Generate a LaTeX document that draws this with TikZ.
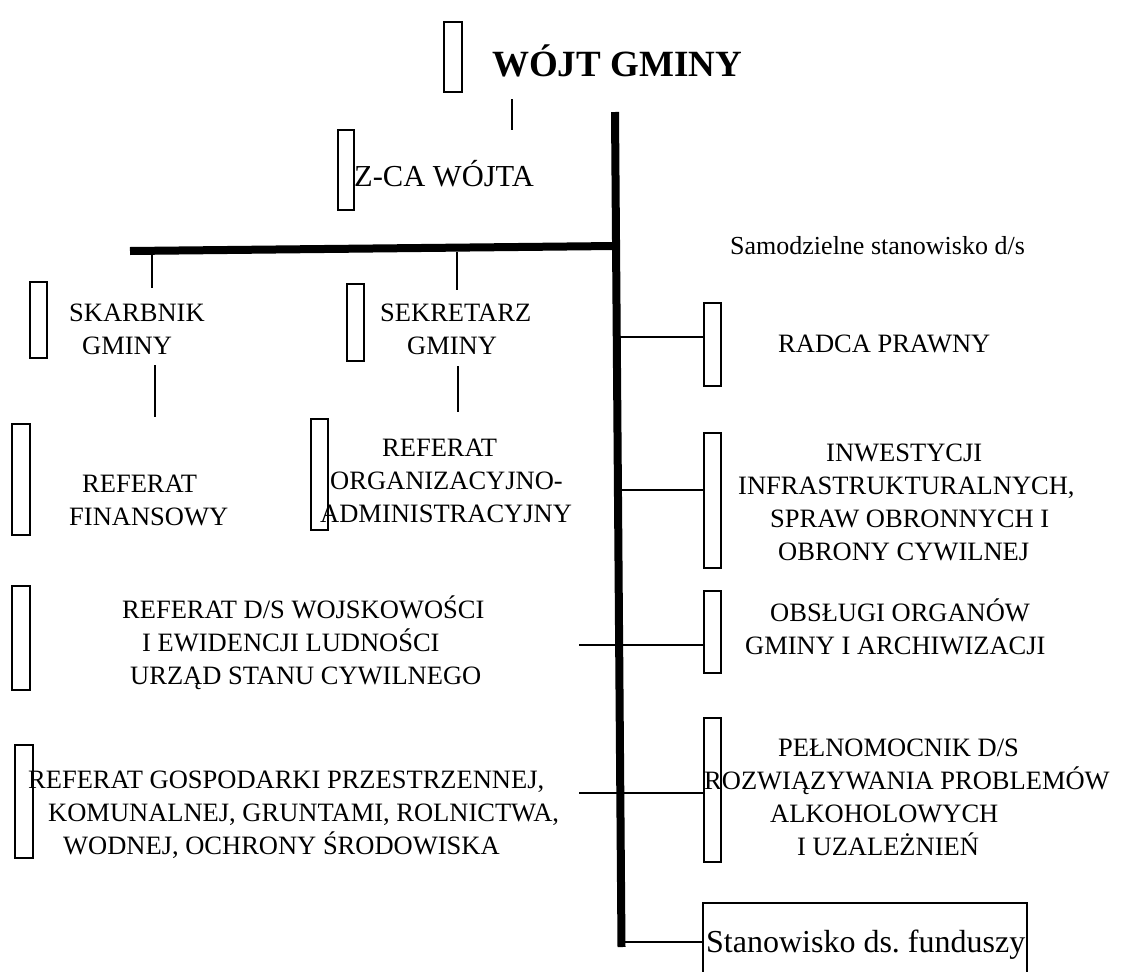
\documentclass[tikz,border=0pt]{standalone}
\usepackage{fontspec}
\setmainfont{LiberationSerif}[Extension=.ttf,UprightFont=*-Regular,BoldFont=*-Bold,ItalicFont=*-Italic,BoldItalicFont=*-BoldItalic]
\frenchspacing
\begin{document}
\begin{tikzpicture}[x=1pt,y=-1pt,
  bx/.style={draw,line width=1.4pt,inner sep=0pt,minimum width=17pt},
  txt/.style={inner sep=0pt,anchor=base west,font=\fontsize{26.5}{33}\selectfont},
  spine/.style={line width=8pt},
  conn/.style={line width=2.2pt}]
\useasboundingbox (0,0) rectangle (1133,972);
\clip (0,0) rectangle (1133,972);
% top
\node[bx,minimum width=18pt,minimum height=70pt] (bWojt) at (453,57) {};
\node[inner sep=0pt,anchor=base west,font=\bfseries\fontsize{37}{40}\selectfont] (tWojt) at (492,76) {WÓJT GMINY};
\coordinate (w1) at (512,99); \coordinate (w2) at (512,130);
\draw[conn] (w1) -- (w2);
\node[bx,minimum width=16pt,minimum height=80pt] (bZca) at (346,170) {};
\node[inner sep=0pt,anchor=base west,font=\fontsize{30.5}{34}\selectfont] (tZca) at (354,186) {Z-CA WÓJTA};
% spine
\coordinate (sTop) at (615,112); \coordinate (sBot) at (621.5,947);
\draw[spine] (sTop) -- (sBot);
\coordinate (hL) at (130,251); \coordinate (hR) at (615,246);
\draw[spine] (hL) -- (hR);
% ticks
\coordinate (k1a) at (152,252); \coordinate (k1b) at (152,288);
\coordinate (k2a) at (457,252); \coordinate (k2b) at (457,290);
\coordinate (k3a) at (155,365); \coordinate (k3b) at (155,417);
\coordinate (k4a) at (458,366); \coordinate (k4b) at (458,412);
\draw[conn] (k1a) -- (k1b); \draw[conn] (k2a) -- (k2b);
\draw[conn] (k3a) -- (k3b); \draw[conn] (k4a) -- (k4b);
% left boxes
\node[bx,minimum height=76pt] (bSkarb) at (38.5,320) {};
\node[txt] (tSkarb) at (69,321) {\begin{tabular}[t]{@{}l@{}}SKARBNIK\\\hspace*{13pt}GMINY\end{tabular}};
\node[bx,minimum height=77pt] (bSekr) at (355.5,322.5) {};
\node[txt] (tSekr) at (380,321) {\begin{tabular}[t]{@{}l@{}}SEKRETARZ\\\hspace*{27pt}GMINY\end{tabular}};
\node[bx,minimum width=18pt,minimum height=111pt] (bFin) at (21,479.5) {};
\node[txt] (tFin) at (69,492) {\begin{tabular}[t]{@{}l@{}}\hspace*{13pt}REFERAT\\FINANSOWY\end{tabular}};
\node[bx,minimum height=111pt] (bOrg) at (319.5,474.5) {};
\node[txt] (tOrg) at (320,456) {\begin{tabular}[t]{@{}l@{}}\hspace*{62pt}REFERAT\\\hspace*{10pt}ORGANIZACYJNO-\\ADMINISTRACYJNY\end{tabular}};
\node[bx,minimum width=18pt,minimum height=104pt] (bDs) at (21,638) {};
\node[txt] (tDs) at (122,618) {\begin{tabular}[t]{@{}l@{}}REFERAT D/S WOJSKOWOŚCI\\\hspace*{20pt}I EWIDENCJI LUDNOŚCI\\\hspace*{8pt}URZĄD STANU CYWILNEGO\end{tabular}};
\node[bx,minimum width=18pt,minimum height=113pt] (bGosp) at (24,801.5) {};
\node[txt] (tGosp) at (28,788) {\begin{tabular}[t]{@{}l@{}}REFERAT GOSPODARKI PRZESTRZENNEJ,\\\hspace*{20pt}KOMUNALNEJ, GRUNTAMI, ROLNICTWA,\\\hspace*{35pt}WODNEJ, OCHRONY ŚRODOWISKA\end{tabular}};
% right
\node[inner sep=0pt,anchor=base west,font=\fontsize{26}{30}\selectfont] (tSam) at (730,254) {Samodzielne stanowisko d/s};
\node[bx,minimum height=83pt] (bRadca) at (712.5,344.5) {};
\node[txt] (tRadca) at (778,352) {RADCA PRAWNY};
\node[bx,minimum height=135pt] (bInw) at (712.5,500.5) {};
\node[txt] (tInw) at (738,461) {\begin{tabular}[t]{@{}l@{}}\hspace*{88pt}INWESTYCJI\\INFRASTRUKTURALNYCH,\\\hspace*{32pt}SPRAW OBRONNYCH I\\\hspace*{40pt}OBRONY CYWILNEJ\end{tabular}};
\node[bx,minimum height=82pt] (bObs) at (712.5,632) {};
\node[txt] (tObs) at (745,621) {\begin{tabular}[t]{@{}l@{}}\hspace*{25pt}OBSŁUGI ORGANÓW\\GMINY I ARCHIWIZACJI\end{tabular}};
\node[bx,minimum height=144pt] (bPel) at (712.5,790) {};
\node[txt] (tPel) at (704,756) {\begin{tabular}[t]{@{}l@{}}\hspace*{74pt}PEŁNOMOCNIK D/S\\ROZWIĄZYWANIA PROBLEMÓW\\\hspace*{66pt}ALKOHOLOWYCH\\\hspace*{93pt}I UZALEŻNIEŃ\end{tabular}};
\node[draw,line width=1.4pt,inner sep=0pt,minimum width=324pt,minimum height=80pt] (bFund) at (865,943) {};
\node[inner sep=0pt,anchor=base west,font=\fontsize{32}{36}\selectfont] (tFund) at (706,952) {Stanowisko ds. funduszy};
% connectors right
\coordinate (c1) at (619,337); \coordinate (c2) at (619,490);
\coordinate (c3) at (579,645); \coordinate (c4) at (579,793);
\coordinate (c5) at (621,942);
\draw[conn] (c1) -- (c1 -| bRadca.west);
\draw[conn] (c2) -- (c2 -| bInw.west);
\draw[conn] (c3) -- (c3 -| bObs.west);
\draw[conn] (c4) -- (c4 -| bPel.west);
\draw[conn] (c5) -- (c5 -| bFund.west);
\end{tikzpicture}
\end{document}
